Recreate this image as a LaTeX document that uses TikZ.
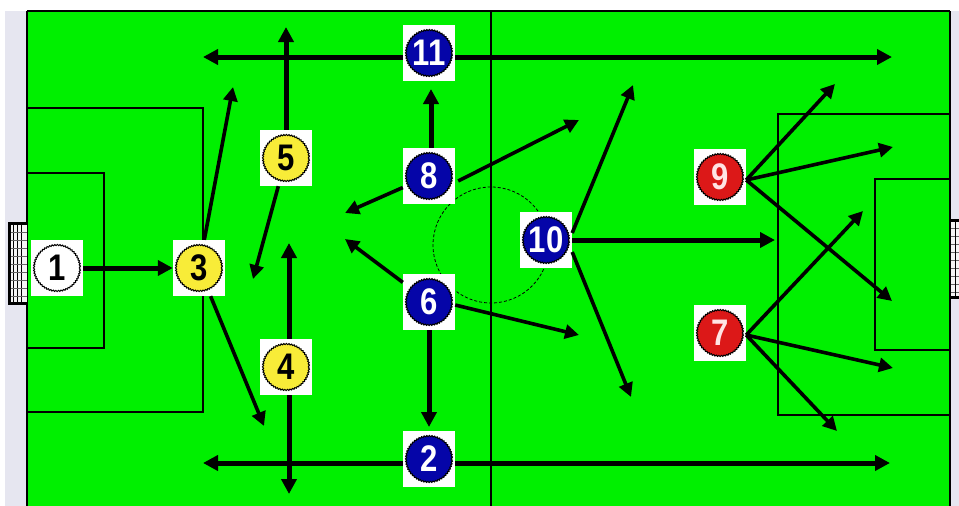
\documentclass[tikz,border=0pt]{standalone}
\usepackage{fontspec}
\usepackage{graphicx}
\setmainfont{Liberation Sans}
\usetikzlibrary{arrows.meta,decorations.pathmorphing}
\definecolor{pitch}{HTML}{00F000}
\definecolor{strip}{HTML}{E6E6F0}
\definecolor{pblue}{HTML}{0505A8}
\definecolor{pyellow}{HTML}{F8EC38}
\definecolor{pred}{HTML}{DC1818}
\definecolor{pink}{HTML}{FFE4E4}
\newcommand\numtxt[1]{\scalebox{0.84}[1]{#1}}
\tikzset{
  player/.style 2 args={rectangle, fill=white, minimum width=52pt, minimum height=56pt, inner sep=0pt,
    font=\fontsize{37}{37}\selectfont\bfseries, text=#2,
    path picture={\draw[black, line width=1pt, fill=#1, decorate,
      decoration={zigzag,segment length=2.6pt,amplitude=0.6pt}]
      (path picture bounding box.center) circle[radius=23pt];}},
  mark line/.style={black, line width=1.3pt},
  thick arrow/.style={line width=5pt, -{Triangle[length=15pt,width=15pt]}},
  thin arrow/.style={line width=3.6pt, -{Triangle[length=14pt,width=14pt]}},
}
\begin{document}
\begin{tikzpicture}[x=1pt,y=-1pt]
\useasboundingbox (0,0) rectangle (959,506);
\fill[white] (0,0) rectangle (959,506);
% side strips
\fill[strip] (5,11) rectangle (27,506);
\fill[strip] (951,11) rectangle (959,506);
% pitch
\fill[pitch] (27,11) rectangle (950,506);
\draw[black, line width=2pt] (27,11) -- (950,11);
\draw[mark line] (27,11) -- (27,506);
\draw[mark line] (950,11) -- (950,506);
% halfway line
\draw[mark line] (491,11) -- (491,506);
% left boxes
\draw[mark line] (27,108) -- (203,108) -- (203,412) -- (27,412);
\draw[mark line] (27,173) -- (104,173) -- (104,348) -- (27,348);
% right boxes
\draw[mark line] (950,114) -- (778,114) -- (778,415) -- (950,415);
\draw[mark line] (950,179) -- (875,179) -- (875,350) -- (950,350);
% centre circle
\draw[black, line width=0.8pt, dash pattern=on 3pt off 2pt] (491,245) circle[radius=58];
% left goal
\fill[white!92!gray] (8,222) rectangle (27,304);
\foreach \x in {13,17,21} \draw[black, line width=0.8pt] (\x,222) -- (\x,304);
\foreach \y in {232,240,248,256,264,272,280,288,296} \draw[black!60, line width=0.4pt] (9,\y) -- (27,\y);
\draw[black, line width=3pt] (27,223) -- (9,223) -- (9,303) -- (27,303);
% right goal
\fill[white!92!gray] (951,219) rectangle (959,298);
\foreach \y in {228,236,244,252,260,268,276,284,292} \draw[black!60, line width=0.4pt] (951,\y) -- (959,\y);
\draw[black, line width=0.8pt] (955,219) -- (955,298);
\draw[black, line width=3pt] (950,220) -- (959,220);
\draw[black, line width=3pt] (950,297) -- (959,297);
% players
\node[player={white}{black}] (p1) at (57,268) {\numtxt{1}};
\node[player={pyellow}{black}] (p3) at (199,268) {\numtxt{3}};
\node[player={pyellow}{black}] (p5) at (286,158) {\numtxt{5}};
\node[player={pyellow}{black}] (p4) at (286,367) {\numtxt{4}};
\node[player={pblue}{white}] (p11) at (429,53) {\numtxt{11}};
\node[player={pblue}{white}] (p8) at (429,176) {\numtxt{8}};
\node[player={pblue}{white}] (p10) at (546,240) {\numtxt{10}};
\node[player={pblue}{white}] (p6) at (429,302) {\numtxt{6}};
\node[player={pblue}{white}] (p2) at (429,459) {\numtxt{2}};
\node[player={pred}{pink}] (p9) at (720,177) {\numtxt{9}};
\node[player={pred}{pink}] (p7) at (720,333) {\numtxt{7}};
% arrow targets
\coordinate (t3a) at (233,87);
\coordinate (t3b) at (264,426);
\coordinate (t5a) at (286,27);
\coordinate (t5b) at (253,279);
\coordinate (t4a) at (289,243);
\coordinate (t4b) at (289,494);
\coordinate (t11a) at (203,57);
\coordinate (t11b) at (892,57);
\coordinate (t2a) at (203,463);
\coordinate (t2b) at (890,463);
\coordinate (t8a) at (431,89);
\coordinate (t8b) at (345,213);
\coordinate (t8c) at (579,120);
\coordinate (t6a) at (345,239);
\coordinate (t6b) at (579,335);
\coordinate (t6c) at (429,427);
\coordinate (t10a) at (633,85);
\coordinate (t10b) at (775,240);
\coordinate (t10c) at (631,397);
\coordinate (t9a) at (835,84);
\coordinate (t9b) at (893,147);
\coordinate (t9c) at (892,301);
\coordinate (t7a) at (863,211);
\coordinate (t7b) at (893,368);
\coordinate (t7c) at (837,431);
% arrows
\draw[thick arrow] (p1) -- (p3);
\draw[thin arrow] (p3) -- (t3a);
\draw[thin arrow] (p3) -- (t3b);
\draw[thick arrow] (p5) -- (t5a);
\draw[thin arrow] (p5) -- (t5b);
\draw[thick arrow] ([xshift=3pt]p4.north) -- (t4a);
\draw[thick arrow] ([xshift=3pt]p4.south) -- (t4b);
\draw[thick arrow] ([yshift=-4pt]p11.west) -- (t11a);
\draw[thick arrow] ([yshift=-4pt]p11.east) -- (t11b);
\draw[thick arrow] ([yshift=-4pt]p2.west) -- (t2a);
\draw[thick arrow] ([yshift=-4pt]p2.east) -- (t2b);
\draw[thick arrow] ([xshift=2pt]p8.north) -- (t8a);
\draw[thin arrow] (p8) -- (t8b);
\draw[thin arrow] ([shift={(3pt,-5pt)}]p8.east) -- (t8c);
\draw[thin arrow] (p6) -- (t6a);
\draw[thin arrow] ([yshift=-3pt]p6.east) -- (t6b);
\draw[thick arrow] (p6.south) -- (t6c);
\draw[thin arrow] ([yshift=7pt]p10.east) -- (t10a);
\draw[thick arrow] (p10.east) -- (t10b);
\draw[thin arrow] ([yshift=-12pt]p10.east) -- (t10c);
\draw[thin arrow] ([yshift=-3pt]p9.east) -- (t9a);
\draw[thin arrow] ([yshift=-3pt]p9.east) -- (t9b);
\draw[thin arrow] ([yshift=-3pt]p9.east) -- (t9c);
\draw[thin arrow] ([yshift=-2pt]p7.east) -- (t7a);
\draw[thin arrow] ([yshift=-2pt]p7.east) -- (t7b);
\draw[thin arrow] ([yshift=-2pt]p7.east) -- (t7c);
\end{tikzpicture}
\end{document}
